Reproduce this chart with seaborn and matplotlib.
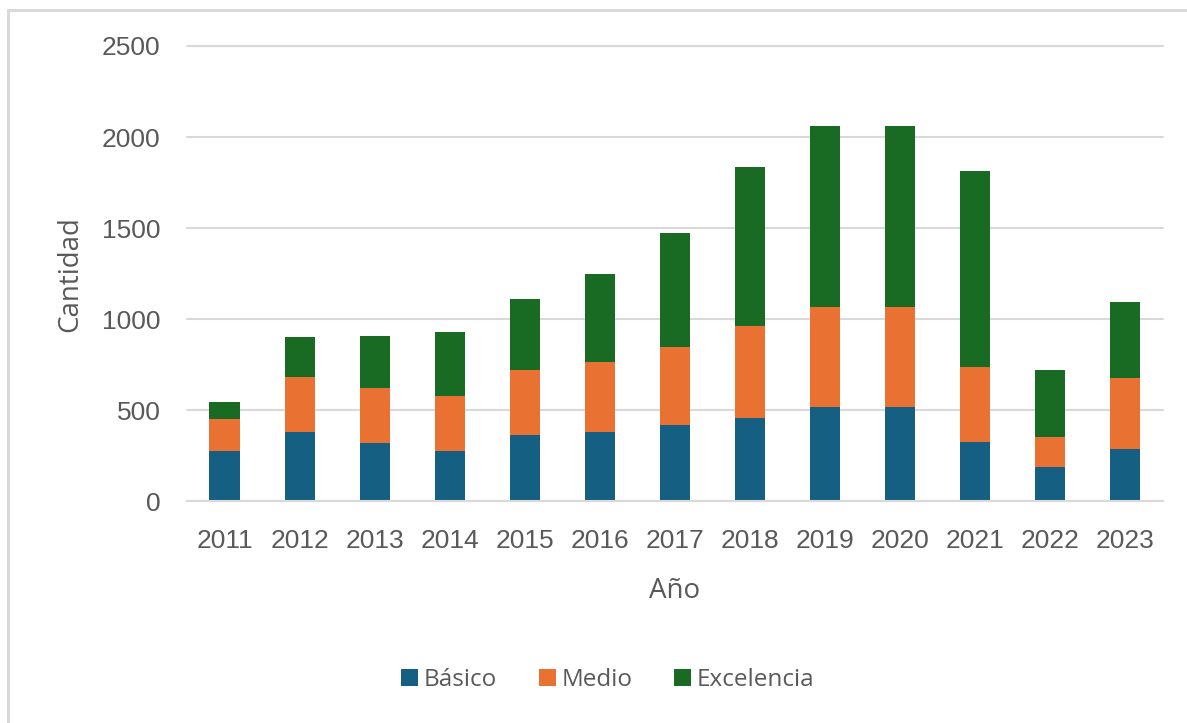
import numpy as np
import pandas as pd
import matplotlib.pyplot as plt
import seaborn as sns
from matplotlib.lines import Line2D

# ==========================================
# DATOS
# ==========================================

anios = ["2011", "2012", "2013", "2014", "2015", "2016", "2017",
         "2018", "2019", "2020", "2021", "2022", "2023"]
basico = [275, 380, 320, 275, 365, 380, 420, 460, 520, 520, 325, 190, 290]
medio = [180, 305, 305, 305, 355, 385, 430, 505, 550, 550, 415, 165, 385]
excelencia = [90, 215, 285, 350, 390, 485, 625, 870, 990, 990, 1075, 365, 420]

series = ["Básico", "Medio", "Excelencia"]
colores = {"Básico": "#156082", "Medio": "#E97132", "Excelencia": "#196B24"}

gris_texto = "#595959"
gris_linea = "#D9D9D9"

df = pd.DataFrame({
    "Año": anios,
    "Básico": basico,
    "Medio": medio,
    "Excelencia": excelencia
})

# alturas acumuladas para apilar
df["tope_basico"] = df["Básico"]
df["tope_medio"] = df["Básico"] + df["Medio"]
df["tope_excelencia"] = df["tope_medio"] + df["Excelencia"]

# ==========================================
# GRAFICO
# ==========================================

sns.set_theme(style="white")
plt.rcParams['font.family'] = ['Liberation Sans', 'DejaVu Sans']

fig = plt.figure(figsize=(11.87, 7.23), dpi=100)
ax = fig.add_axes([0.1575, 0.3064, 0.8223, 0.63])

# del mas alto al mas bajo, para que cada capa tape a la anterior
for nombre, col in [("Excelencia", "tope_excelencia"),
                    ("Medio", "tope_medio"),
                    ("Básico", "tope_basico")]:
    sns.barplot(data=df, x="Año", y=col, color=colores[nombre],
                saturation=1, width=0.4, ax=ax, label=nombre,
                linewidth=0)

ax.set_ylim(0, 2500)
ax.set_yticks([0, 500, 1000, 1500, 2000, 2500])
ax.yaxis.grid(True, color=gris_linea, linewidth=1.5)
for g in ax.yaxis.get_gridlines():
    g.set_clip_on(False)
ax.set_axisbelow(True)

for lado in ["top", "right", "left"]:
    ax.spines[lado].set_visible(False)
ax.spines["bottom"].set_color(gris_linea)
ax.spines["bottom"].set_linewidth(1.5)

ax.tick_params(axis="y", length=0, pad=19, labelsize=19, labelcolor=gris_texto)
ax.tick_params(axis="x", length=0, pad=20, labelsize=19, labelcolor=gris_texto)

ax.set_xlabel("Año", fontsize=20, color=gris_texto, family=["Open Sans", "DejaVu Sans"])
ax.set_ylabel("Cantidad", fontsize=20, color=gris_texto, family=["Open Sans", "DejaVu Sans"])
ax.xaxis.set_label_coords(0.5, -0.165)
ax.yaxis.set_label_coords(-0.105, 0.5)

# leyenda en orden Básico, Medio, Excelencia
handles, labels = ax.get_legend_handles_labels()
if ax.get_legend() is not None:
    ax.get_legend().remove()
orden = [labels.index(s) for s in series]
fig.legend([handles[i] for i in orden], [labels[i] for i in orden],
           loc="center", bbox_to_anchor=(0.512, 0.06), ncol=3,
           frameon=False, handlelength=0.7, handleheight=0.7,
           handletextpad=0.25, columnspacing=1.7,
           prop={"family": ["Open Sans", "DejaVu Sans"], "size": 17.5},
           labelcolor=gris_texto)

# marco exterior (solo arriba e izquierda visibles)
fig.add_artist(Line2D([7.5 / 1187, 1], [1 - 9.5 / 723] * 2,
                      transform=fig.transFigure, color=gris_linea, lw=2.2))
fig.add_artist(Line2D([7.5 / 1187] * 2, [0, 1 - 9.5 / 723],
                      transform=fig.transFigure, color=gris_linea, lw=2.2))

fig.savefig("out.png", dpi=100, facecolor="white")
